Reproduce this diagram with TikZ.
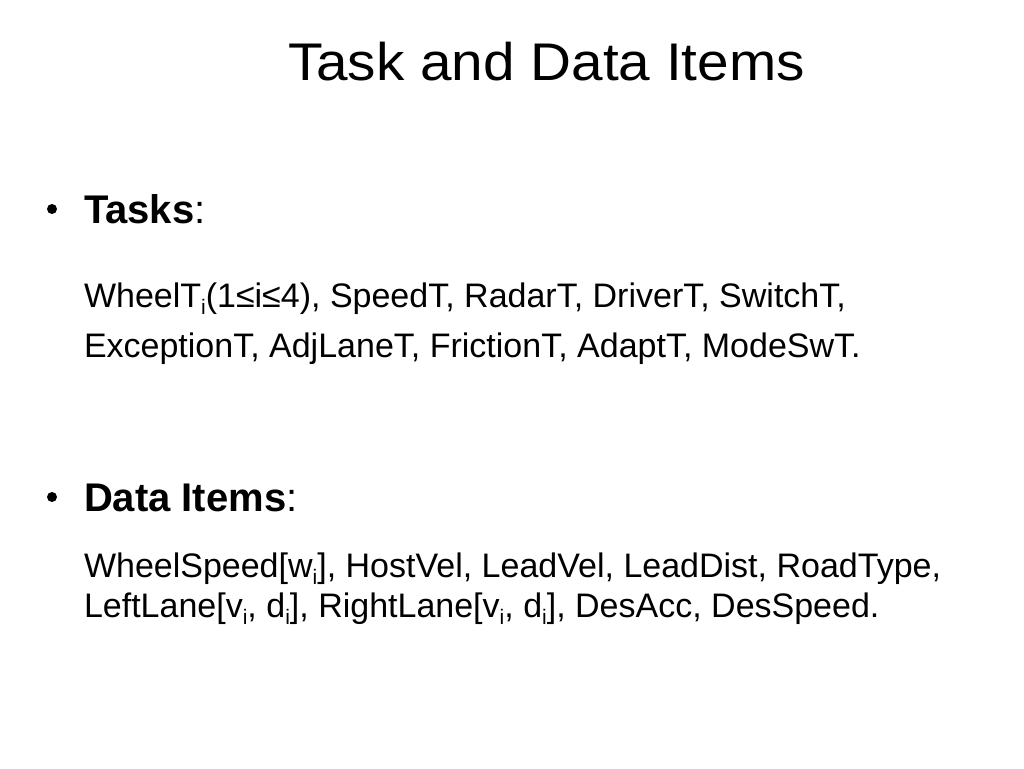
\documentclass[tikz,border=0pt]{standalone}
\usepackage{fontspec}
\setmainfont{Liberation Sans}
\newcommand{\sbi}[1]{\raisebox{-0.23em}{\fontsize{21}{21}\selectfont #1}}
\tikzset{
  txt/.style={anchor=base west, inner sep=0pt, outer sep=0pt},
  ttl/.style={txt, font=\fontsize{53}{53}\selectfont},
  head/.style={txt, font=\fontsize{40}{40}\selectfont},
  body/.style={txt, font=\fontsize{34}{34}\selectfont},
  bul/.style={circle, fill=black, inner sep=0pt, minimum size=10pt}
}
\begin{document}
\begin{tikzpicture}[x=1pt,y=-1pt]
\useasboundingbox (0,0) rectangle (1024,768);
\node[ttl] (title) at (288,81) {\scalebox{1.07}[1]{Task and Data Items}};
\node[bul] (b1) at (52,209) {};
\node[head] (tasks) at (84,223) {\textbf{Tasks}:};
\node[body] (t1) at (84,307) {WheelT\sbi{i}(1≤i≤4), SpeedT, RadarT, DriverT, SwitchT,};
\node[body] (t2) at (84,357) {ExceptionT, AdjLaneT, FrictionT, AdaptT, ModeSwT.};
\node[bul] (b2) at (52,497) {};
\node[head] (data) at (84,511) {\textbf{Data Items}:};
\node[body] (d1) at (84,577) {WheelSpeed[w\sbi{i}], HostVel, LeadVel, LeadDist, RoadType,};
\node[body] (d2) at (84,617) {LeftLane[v\sbi{i}, d\sbi{i}], RightLane[v\sbi{i}, d\sbi{i}], DesAcc, DesSpeed.};
\end{tikzpicture}
\end{document}
